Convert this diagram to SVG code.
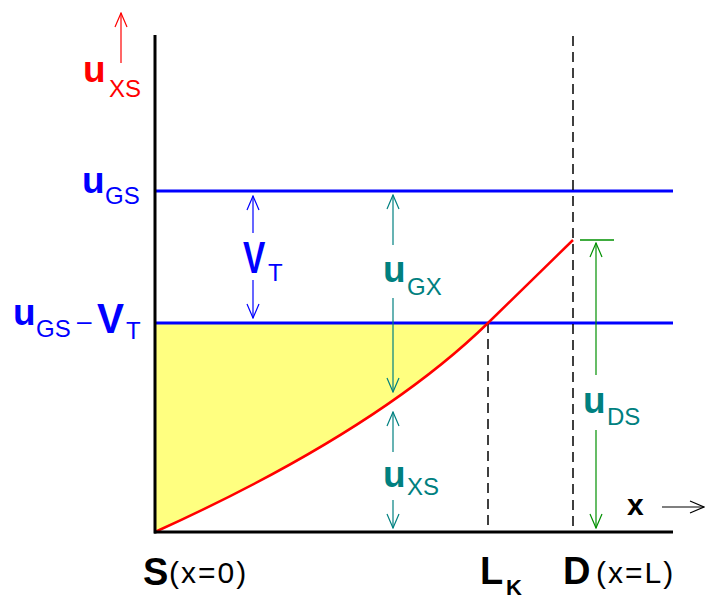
<svg xmlns="http://www.w3.org/2000/svg" width="706" height="600" viewBox="0 0 706 600">
<style>
text{font-family:"Liberation Sans",Arial,sans-serif}
.b{font-weight:bold}
.u{font-size:37px;font-weight:bold}
.sub{font-size:24px}
.blue{fill:#0000ff}
.teal{fill:#008080}
.red{fill:#ff0000}
.blk{fill:#000}
.arr{fill:none;stroke-width:1.2}
.dash{fill:none;stroke:#000;stroke-width:1.5;stroke-dasharray:10 6}
</style>
<defs>
<marker id="mTeal" viewBox="-15 -7 16 14" refX="0" refY="0" markerWidth="16" markerHeight="14" markerUnits="userSpaceOnUse" orient="auto"><path d="M-14,-6 L0,0 L-14,6" fill="none" stroke="#008080" stroke-width="1.2"/></marker>
<marker id="mBlue" viewBox="-15 -7 16 14" refX="0" refY="0" markerWidth="16" markerHeight="14" markerUnits="userSpaceOnUse" orient="auto"><path d="M-14,-6 L0,0 L-14,6" fill="none" stroke="#0000ff" stroke-width="1.2"/></marker>
<marker id="mGreen" viewBox="-15 -7 16 14" refX="0" refY="0" markerWidth="16" markerHeight="14" markerUnits="userSpaceOnUse" orient="auto"><path d="M-14,-6 L0,0 L-14,6" fill="none" stroke="#009000" stroke-width="1.2"/></marker>
<marker id="mRed" viewBox="-15 -7 16 14" refX="0" refY="0" markerWidth="16" markerHeight="14" markerUnits="userSpaceOnUse" orient="auto"><path d="M-14,-6 L0,0 L-14,6" fill="none" stroke="#ff0000" stroke-width="1.2"/></marker>
<marker id="mBlack" viewBox="-15 -7 16 14" refX="0" refY="0" markerWidth="16" markerHeight="14" markerUnits="userSpaceOnUse" orient="auto"><path d="M-14,-6 L0,0 L-14,6" fill="none" stroke="#000" stroke-width="1.2"/></marker>
</defs>
<rect width="706" height="600" fill="#fff"/>
<g id="fill">
<path d="M155,323 L155,532 Q376,432 488,323 Z" fill="#ffff80"/>
</g>
<g id="levels">
<line x1="155" y1="191" x2="673" y2="191" stroke="#0000ff" stroke-width="3"/>
<line x1="155" y1="323" x2="673" y2="323" stroke="#0000ff" stroke-width="3"/>
<line class="dash" x1="488" y1="323" x2="488" y2="532"/>
<line class="dash" x1="573" y1="36" x2="573" y2="532"/>
<line x1="580" y1="240" x2="614" y2="240" stroke="#009000" stroke-width="1.5"/>
</g>
<g id="curve">
<path d="M155,532 Q376,432 488,323 L573,240" fill="none" stroke="#ff0000" stroke-width="2.5"/>
</g>
<g id="axes">
<line x1="155" y1="35" x2="155" y2="533.5" stroke="#000" stroke-width="3"/>
<line x1="154" y1="532" x2="673" y2="532" stroke="#000" stroke-width="3"/>
</g>
<g id="connectors">
<line class="arr" stroke="#ff0000" x1="121" y1="63" x2="121" y2="13" marker-end="url(#mRed)"/>
<line class="arr" stroke="#0000ff" x1="253" y1="233" x2="253" y2="196" marker-end="url(#mBlue)"/>
<line class="arr" stroke="#0000ff" x1="253" y1="280" x2="253" y2="318" marker-end="url(#mBlue)"/>
<line class="arr" stroke="#008080" x1="393" y1="245" x2="393" y2="195" marker-end="url(#mTeal)"/>
<line class="arr" stroke="#008080" x1="393" y1="298" x2="393" y2="392" marker-end="url(#mTeal)"/>
<line class="arr" stroke="#008080" x1="393" y1="452" x2="393" y2="412" marker-end="url(#mTeal)"/>
<line class="arr" stroke="#008080" x1="393" y1="500" x2="393" y2="528" marker-end="url(#mTeal)"/>
<line class="arr" stroke="#009000" x1="596" y1="375" x2="596" y2="243" marker-end="url(#mGreen)"/>
<line class="arr" stroke="#009000" x1="596" y1="430" x2="596" y2="528" marker-end="url(#mGreen)"/>
<line class="arr" stroke="#000" x1="662" y1="507" x2="704" y2="507" marker-end="url(#mBlack)"/>
</g>
<g id="label-uxs-axis" class="red">
<text class="u" x="83" y="82">u</text><text class="sub" x="109" y="97">XS</text>
</g>
<g id="label-ugs" class="blue">
<text class="u" x="82" y="193">u</text><text class="sub" x="105" y="204">GS</text>
</g>
<g id="label-ugs-vt" class="blue">
<text class="u" x="13" y="325">u</text><text class="sub" x="36" y="337">GS</text>
<text style="font-size:26px" x="77" y="330">–</text>
<text class="b" style="font-size:43px" x="97" y="333" textLength="27" lengthAdjust="spacingAndGlyphs">V</text><text class="sub" x="126" y="339">T</text>
</g>
<g id="label-vt" class="blue">
<text class="b" style="font-size:44px" transform="translate(243,273) scale(0.76,1)">V</text><text class="sub" x="268" y="281">T</text>
</g>
<g id="label-ugx" class="teal">
<text class="u" x="383" y="282">u</text><text class="sub" x="407" y="295">GX</text>
</g>
<g id="label-uxs" class="teal">
<text class="u" x="383" y="487">u</text><text class="sub" x="407" y="495">XS</text>
</g>
<g id="label-uds" class="teal">
<text class="u" x="583" y="413">u</text><text class="sub" x="607" y="425">DS</text>
</g>
<g id="label-x" class="blk">
<text class="b" style="font-size:30px" x="627" y="515">x</text>
</g>
<g id="label-s" class="blk">
<text class="b" style="font-size:38px" x="143" y="585">S</text><text style="font-size:30px;letter-spacing:2px" x="169" y="583">(x=0)</text>
</g>
<g id="label-lk" class="blk">
<text class="b" style="font-size:38px" x="480" y="584">L</text><text class="b" style="font-size:22px" x="506" y="595">K</text>
</g>
<g id="label-d" class="blk">
<text class="b" style="font-size:38px" x="563" y="584">D</text><text style="font-size:30px;letter-spacing:2px" x="596" y="583">(x=L)</text>
</g>
</svg>
